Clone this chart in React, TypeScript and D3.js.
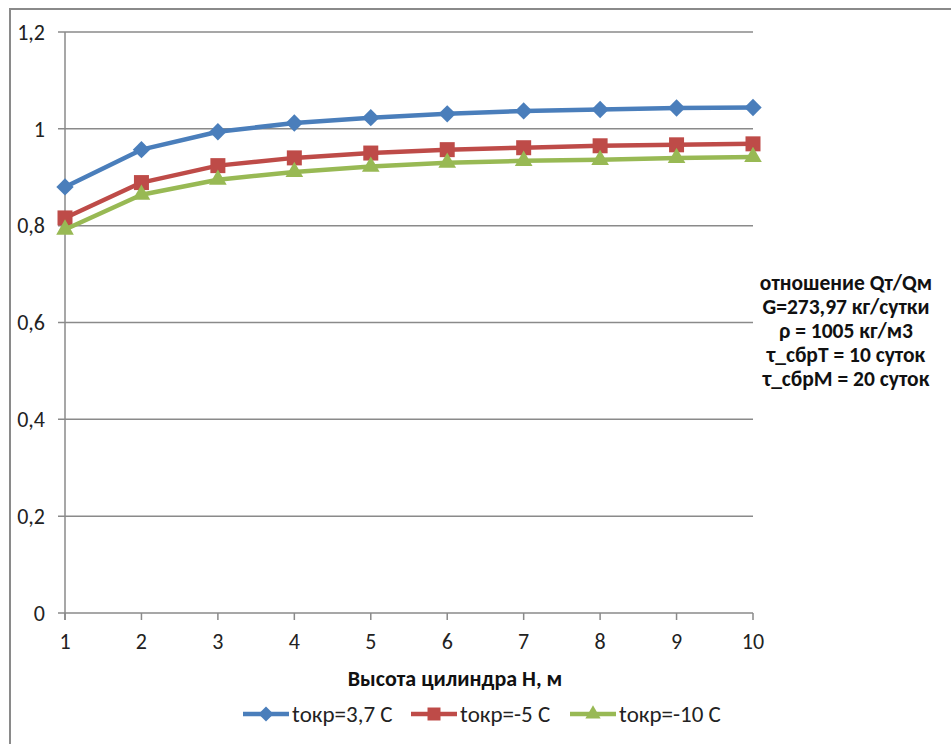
import React from "react";
import * as d3 from "d3";

const heights = [1, 2, 3, 4, 5, 6, 7, 8, 9, 10];
const seriesNames = ["tокр=3,7 С", "tокр=-5 С", "tокр=-10 С"];
const blueValues = [0.88, 0.957, 0.994, 1.012, 1.023, 1.031, 1.037, 1.04, 1.043, 1.044];
const redValues = [0.816, 0.889, 0.924, 0.94, 0.95, 0.957, 0.961, 0.965, 0.967, 0.969];
const greenValues = [0.792, 0.864, 0.895, 0.911, 0.922, 0.93, 0.934, 0.936, 0.94, 0.942];
const yTicks = [0, 0.2, 0.4, 0.6, 0.8, 1, 1.2];
const annotationLines = [
  "отношение Qт/Qм",
  "G=273,97 кг/сутки",
  "ρ = 1005 кг/м3",
  "τ_сбрТ = 10 суток",
  "τ_сбрМ = 20 суток",
];
const xTitle = "Высота цилиндра H, м";

const colors = ["#4A7EBB", "#BE4B48", "#98B954"];
const shapes = [d3.symbolSquare, d3.symbolSquare, d3.symbolTriangle];
const shapeSizes = [150, 225, 135];
const rotations = [45, 0, 0];
const FONT = "Carlito, Calibri, Lato, 'Open Sans', sans-serif";

export default function App() {
  const W = 951, H = 744;
  const x = d3.scaleLinear().domain([1, 10]).range([65, 753]);
  const y = d3.scaleLinear().domain([0, 1.2]).range([613, 32]);
  const allSeries = [blueValues, redValues, greenValues];
  const line = d3.line<number>().x((_, i) => x(heights[i])).y((v) => y(v));
  const fmt = (v: number) => (v === 0 || v === 1 ? String(v) : v.toFixed(1).replace(".", ","));
  const legendX = [243, 411, 570];
  const sym = (si: number, k: number) => d3.symbol().type(shapes[si]).size(shapeSizes[si] * k)() || "";

  return (
    <svg width={W} height={H} style={{ position: "absolute", left: 0, top: 0, fontFamily: FONT }}>
      <rect x={0} y={0} width={W} height={H} fill="#fff" />
      <rect x={10} y={9} width={W + 20} height={H + 20} fill="none" stroke="#8a8a8a" strokeWidth={2} />
      {yTicks.map((t) => (
        <g key={t}>
          <line x1={58} x2={753} y1={y(t)} y2={y(t)} stroke="#8a8a8a" strokeWidth={1.5} />
          <text x={45} y={y(t)} dy="0.35em" textAnchor="end" fontSize={22} fill="#222">
            {fmt(t)}
          </text>
        </g>
      ))}
      <line x1={65} x2={65} y1={y(1.2)} y2={y(0) + 7} stroke="#8a8a8a" strokeWidth={1.5} />
      {heights.map((h) => (
        <g key={h}>
          <line x1={x(h)} x2={x(h)} y1={y(0)} y2={y(0) + 7} stroke="#8a8a8a" strokeWidth={1.5} />
          <text x={x(h)} y={641} dy="0.35em" textAnchor="middle" fontSize={22} fill="#222">
            {h}
          </text>
        </g>
      ))}
      <text x={455} y={678} dy="0.35em" textAnchor="middle" fontSize={22} fontWeight="bold" fill="#111">
        {xTitle}
      </text>
      {allSeries.map((vals, si) => (
        <g key={si}>
          <path d={line(vals) || ""} fill="none" stroke={colors[si]} strokeWidth={4.5} strokeLinejoin="round" />
          {vals.map((v, i) => (
            <path
              key={i}
              d={sym(si, 1)}
              transform={`translate(${x(heights[i])},${y(v)}) rotate(${rotations[si]})`}
              fill={colors[si]}
            />
          ))}
        </g>
      ))}
      {annotationLines.map((t, i) => (
        <text key={i} x={846} y={282 + i * 24} dy="0.35em" textAnchor="middle" fontSize={21.5} fontWeight="bold" fill="#111">
          {t}
        </text>
      ))}
      {seriesNames.map((name, si) => (
        <g key={si} transform={`translate(${legendX[si]},714)`}>
          <line x1={0} x2={46} y1={0} y2={0} stroke={colors[si]} strokeWidth={4.5} />
          <path d={sym(si, 0.75)} transform={`translate(23,0) rotate(${rotations[si]})`} fill={colors[si]} />
          <text x={49} y={0} dy="0.35em" fontSize={23} fill="#222">
            {name}
          </text>
        </g>
      ))}
    </svg>
  );
}
